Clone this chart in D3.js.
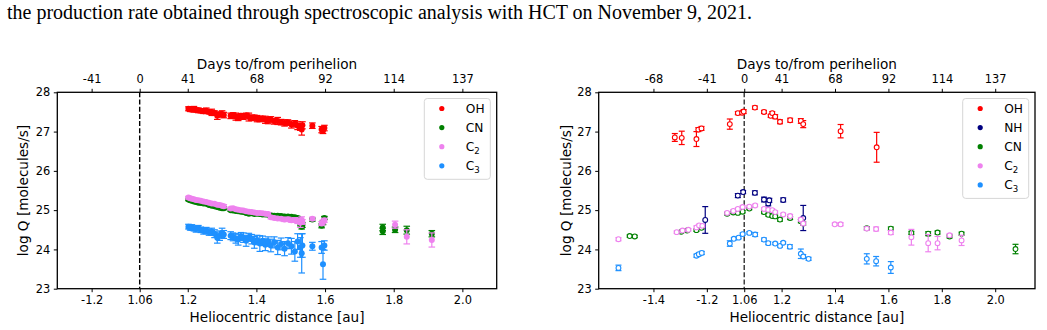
<!DOCTYPE html>
<html>
<meta charset="utf-8" />
<title>Production rates vs heliocentric distance</title>
<head>
    <script src="https://d3js.org/d3.v7.min.js"></script>
    <style>
        body { margin: 0; background: #fff; }
        svg text { font-family: "DejaVu Sans", sans-serif; fill: #000; }
    </style>
</head>
<body>
<div id="fig"></div>
<script type="text/javascript">
    // signed heliocentric distance: negative = pre-perihelion
    var perihelion = 1.06;

    var yTicks = [23, 24, 25, 26, 27, 28];
    var leftTicks = [-1.2, 1.06, 1.2, 1.4, 1.6, 1.8, 2.0];
    var leftTickLabels = ["-1.2", "1.06", "1.2", "1.4", "1.6", "1.8", "2.0"];
    var leftDays = ["-41", "0", "41", "68", "92", "114", "137"];
    var rightTicks = [-1.4, -1.2, 1.06, 1.2, 1.4, 1.6, 1.8, 2.0];
    var rightTickLabels = ["-1.4", "-1.2", "1.06", "1.2", "1.4", "1.6", "1.8", "2.0"];
    var rightDays = ["-68", "-41", "0", "41", "68", "92", "114", "137"];

    // left panel: one list of distances, one value per species (null = none)
    var leftDist = [1.202, 1.207, 1.212, 1.218, 1.224, 1.231, 1.238, 1.246, 1.254, 1.262, 1.270, 1.278, 1.286, 1.293, 1.300, 1.305,
        1.325, 1.332, 1.340, 1.347, 1.355, 1.362, 1.370, 1.378, 1.386, 1.394, 1.402, 1.410, 1.418, 1.426, 1.434, 1.442,
        1.452, 1.462, 1.472, 1.482, 1.492, 1.502, 1.512, 1.520, 1.528, 1.532, 1.534,
        1.563, 1.590, 1.594, 1.598, 1.768, 1.768, 1.804, 1.838, 1.911];
    var leftOH = [27.58, 27.57, 27.56, 27.57, 27.55, 27.54, 27.53, 27.52, 27.53, 27.50, 27.49, 27.47, 27.40, 27.44, 27.45, 27.42,
        27.40, 27.42, 27.38, 27.36, 27.40, 27.38, 27.41, 27.37, 27.35, 27.36, 27.33, 27.32, 27.33, 27.30, 27.28, 27.31,
        27.26, 27.27, 27.24, 27.22, 27.23, 27.18, 27.20, 27.15, 27.12, 27.05, 27.16,
        27.15, 27.05, 27.02, 27.09, null, null, null, null, null];
    var leftOHErr = [0.05, 0.06, 0.05, 0.07, 0.05, 0.06, 0.05, 0.06, 0.07, 0.05, 0.08, 0.06, 0.09, 0.06, 0.08, 0.07,
        0.07, 0.06, 0.09, 0.08, 0.06, 0.07, 0.06, 0.10, 0.07, 0.06, 0.08, 0.07, 0.06, 0.09, 0.08, 0.07,
        0.07, 0.09, 0.07, 0.08, 0.07, 0.09, 0.08, 0.10, 0.09, 0.14, 0.09,
        0.07, 0.08, 0.07, 0.07, 0, 0, 0, 0, 0];
    var leftCN = [25.27, 25.25, 25.24, 25.22, 25.21, 25.19, 25.18, 25.17, 25.16, 25.13, 25.11, 25.10, 25.08, 25.06, 25.05, 25.05,
        25.00, 24.99, 24.98, 24.97, 24.96, 24.95, 24.93, 24.91, 24.92, 24.90, 24.91, 24.90, 24.89, 24.89, 24.88, 24.87,
        24.86, 24.86, 24.85, 24.84, 24.84, 24.83, 24.82, 24.80, 24.66, 24.58, 24.62,
        24.76, 24.60, 24.68, 24.80, 24.56, 24.46, 24.50, 24.49, 24.40];
    var leftCNErr = [0.03, 0.03, 0.03, 0.03, 0.03, 0.03, 0.03, 0.03, 0.03, 0.03, 0.03, 0.03, 0.04, 0.03, 0.03, 0.04,
        0.03, 0.03, 0.03, 0.03, 0.03, 0.03, 0.03, 0.04, 0.03, 0.03, 0.03, 0.03, 0.03, 0.04, 0.03, 0.04,
        0.03, 0.04, 0.04, 0.04, 0.04, 0.04, 0.04, 0.04, 0.06, 0.06, 0.06,
        0.04, 0.05, 0.05, 0.04, 0.08, 0.08, 0.07, 0.10, 0.08];
    var leftC2 = [25.32, 25.30, 25.29, 25.28, 25.26, 25.25, 25.24, 25.22, 25.21, 25.19, 25.17, 25.16, 25.14, 25.13, 25.11, 25.10,
        25.04, 25.05, 25.02, 25.01, 25.00, 24.99, 24.97, 24.96, 24.95, 24.94, 24.93, 24.93, 24.92, 24.91, 24.90, 24.82,
        24.80, 24.79, 24.78, 24.76, 24.77, 24.74, 24.75, 24.72, 24.68, 24.75, 24.70,
        24.78, 24.66, 24.70, 24.74, null, null, 24.63, 24.32, 24.24];
    var leftC2Err = [0.03, 0.03, 0.03, 0.03, 0.03, 0.03, 0.03, 0.03, 0.03, 0.03, 0.03, 0.03, 0.03, 0.04, 0.03, 0.04,
        0.03, 0.03, 0.03, 0.03, 0.03, 0.03, 0.03, 0.03, 0.03, 0.03, 0.03, 0.03, 0.03, 0.03, 0.04, 0.04,
        0.04, 0.04, 0.04, 0.05, 0.05, 0.05, 0.06, 0.06, 0.12, 0.08, 0.06,
        0.04, 0.05, 0.05, 0.05, 0, 0, 0.09, 0.18, 0.18];
    var leftC3 = [24.58, 24.55, 24.56, 24.53, 24.52, 24.54, 24.50, 24.47, 24.48, 24.44, 24.45, 24.40, 24.30, 24.35, 24.42, 24.38,
        24.35, 24.32, 24.28, 24.25, 24.33, 24.30, 24.22, 24.31, 24.26, 24.18, 24.24, 24.15, 24.22, 24.12, 24.20, 24.10,
        24.18, 24.05, 24.14, 24.02, 24.16, 24.08, 23.95, 24.20, 24.05, 23.90, 24.10,
        24.08, 24.05, 23.62, 24.10, null, null, null, null, null];
    var leftC3Err = [0.06, 0.06, 0.07, 0.06, 0.08, 0.07, 0.07, 0.08, 0.08, 0.08, 0.09, 0.10, 0.14, 0.12, 0.12, 0.10,
        0.10, 0.10, 0.12, 0.14, 0.10, 0.12, 0.14, 0.10, 0.12, 0.15, 0.12, 0.20, 0.12, 0.15, 0.12, 0.16,
        0.14, 0.18, 0.15, 0.18, 0.14, 0.20, 0.25, 0.20, 0.25, 0.50, 0.30,
        0.10, 0.15, 0.38, 0.12, 0, 0, 0, 0, 0];

    // right panel: [signed distance, log Q, error]
    var rightOH = [[-1.320, 26.85, 0.10], [-1.294, 26.84, 0.17], [-1.239, 26.81, 0.19], [-1.232, 27.05, 0.05],
        [-1.220, 27.08, 0.05], [-1.114, 27.19, 0.13], [-1.084, 27.47, 0.04], [-1.068, 27.48, 0.04], [-1.062, 27.51, 0.05],
        [1.100, 27.61, 0.04], [1.134, 27.50, 0.04], [1.159, 27.40, 0.04], [1.165, 27.47, 0.04], [1.176, 27.38, 0.05],
        [1.194, 27.25, 0.05], [1.232, 27.29, 0.05], [1.272, 27.27, 0.06], [1.281, 27.19, 0.09], [1.421, 27.01, 0.17],
        [1.556, 26.60, 0.38]];
    var rightNH = [[-1.206, 24.75, 0.34], [-1.084, 25.37, 0.05], [-1.064, 25.46, 0.04], [1.100, 25.44, 0.05],
        [1.134, 25.27, 0.06], [1.150, 25.17, 0.06], [1.154, 25.25, 0.05], [1.206, 25.26, 0.05], [1.281, 24.80, 0.32]];
    var rightCN = [[-1.489, 24.34, 0.03], [-1.470, 24.33, 0.03], [-1.296, 24.45, 0.03], [-1.274, 24.48, 0.03],
        [-1.239, 24.49, 0.03], [-1.220, 24.55, 0.03], [-1.124, 24.91, 0.03], [-1.101, 24.94, 0.03], [-1.084, 24.93, 0.03],
        [-1.066, 24.96, 0.03], [1.079, 25.04, 0.03], [1.134, 24.95, 0.04], [1.150, 24.88, 0.03], [1.165, 24.85, 0.03],
        [1.176, 24.84, 0.03], [1.194, 24.76, 0.04], [1.232, 24.80, 0.04], [1.272, 24.72, 0.04], [1.281, 24.66, 0.04],
        [1.519, 24.54, 0.04], [1.609, 24.53, 0.04], [1.686, 24.42, 0.04], [1.749, 24.40, 0.05], [1.784, 24.43, 0.04],
        [1.829, 24.33, 0.04], [1.874, 24.40, 0.04], [2.076, 24.01, 0.12]];
    var rightC2 = [[-1.531, 24.26, 0.04], [-1.313, 24.44, 0.03], [-1.291, 24.48, 0.03], [-1.269, 24.50, 0.03],
        [-1.239, 24.56, 0.04], [-1.229, 24.61, 0.03], [-1.217, 24.60, 0.03], [-1.124, 24.93, 0.03], [-1.101, 24.98, 0.03],
        [-1.084, 25.03, 0.03], [-1.066, 25.08, 0.03], [1.079, 25.09, 0.03], [1.101, 25.12, 0.03], [1.134, 25.03, 0.03],
        [1.150, 25.01, 0.03], [1.165, 25.00, 0.03], [1.176, 24.95, 0.03], [1.206, 24.89, 0.03], [1.232, 24.85, 0.04],
        [1.272, 24.76, 0.04], [1.281, 24.66, 0.04], [1.399, 24.64, 0.03], [1.421, 24.64, 0.04], [1.519, 24.53, 0.04],
        [1.554, 24.52, 0.05], [1.609, 24.43, 0.05], [1.686, 24.31, 0.20], [1.749, 24.16, 0.22], [1.784, 24.16, 0.17],
        [1.829, 24.36, 0.04], [1.874, 24.23, 0.13]];
    var rightC3 = [[-1.531, 23.53, 0.07], [-1.239, 23.84, 0.04], [-1.230, 23.88, 0.04], [-1.219, 23.91, 0.04],
        [-1.114, 24.15, 0.07], [-1.099, 24.27, 0.03], [-1.081, 24.30, 0.03], [-1.066, 24.39, 0.03], [1.079, 24.42, 0.03],
        [1.101, 24.38, 0.05], [1.134, 24.25, 0.04], [1.150, 24.16, 0.04], [1.176, 24.15, 0.03], [1.194, 24.09, 0.03],
        [1.206, 24.17, 0.03], [1.231, 24.07, 0.05], [1.272, 23.89, 0.12], [1.281, 23.82, 0.05], [1.301, 23.76, 0.04],
        [1.519, 23.76, 0.13], [1.554, 23.70, 0.12], [1.609, 23.54, 0.15]];

    var colors = { OH: "#ff0000", NH: "#000080", CN: "#008000", C2: "#ee82ee", C3: "#1e90ff" };

    // pre-perihelion distances are mirrored about perihelion
    function unfold(r) { return r < 0 ? 2 * perihelion + r : r; }

    function zipLeft(vals, errs) {
        var out = [];
        for (let i = 0; i < leftDist.length; ++i)
            if (vals[i] !== null) out.push([leftDist[i], vals[i], errs[i]]);
        return out;
    }

    var svg = d3.select("#fig").append("svg")
        .attr("width", 1047).attr("height", 330);

    svg.append("text")
        .attr("x", 7).attr("y", 18.5)
        .style("font-family", "'Liberation Serif', 'Times New Roman', serif")
        .style("font-size", "20px")
        .text("the production rate obtained through spectroscopic analysis with HCT on November 9, 2021.");

    const plotTop = 92.3, plotBottom = 288.7;

    function drawPanel(p) {
        var x = d3.scaleLinear().domain(p.domain.map(unfold)).range([p.left, p.right]);
        var y = d3.scaleLinear().domain([23, 28]).range([plotBottom, plotTop]);
        var g = svg.append("g");

        var xb = g.append("g").attr("transform", "translate(0," + plotBottom + ")")
            .call(d3.axisBottom(x).tickValues(p.ticks.map(unfold))
                .tickFormat((d, i) => p.labels[i]).tickSize(3.5).tickPadding(3.5));
        var xt = g.append("g").attr("transform", "translate(0," + plotTop + ")")
            .call(d3.axisTop(x).tickValues(p.ticks.map(unfold))
                .tickFormat((d, i) => p.days[i]).tickSize(3.5).tickPadding(5.5));
        var yl = g.append("g").attr("transform", "translate(" + p.left + ",0)")
            .call(d3.axisLeft(y).tickValues(yTicks).tickFormat(d3.format("d")).tickSize(3.5).tickPadding(3.5));
        [xb, xt, yl].forEach(function(a) {
            a.select(".domain").remove();
            a.selectAll(".tick line").attr("stroke", "#000").attr("stroke-width", 1);
            a.selectAll(".tick text").style("font-size", "11.4px").style("font-family", "'DejaVu Sans'");
        });

        g.append("line")
            .attr("x1", x(unfold(perihelion))).attr("x2", x(unfold(perihelion)))
            .attr("y1", plotTop).attr("y2", plotBottom)
            .attr("stroke", p.dashColor).attr("stroke-width", 1.4)
            .attr("stroke-dasharray", "5,2.2");

        p.series.forEach(function(s) {
            var c = colors[s.name];
            var sg = g.append("g");
            var cap = p.open ? 3 : 3.3;
            var bars = sg.selectAll("g.bar").data(s.pts.filter(d => d[2] > 0)).enter().append("g");
            bars.append("line")
                .attr("x1", d => x(unfold(d[0]))).attr("x2", d => x(unfold(d[0])))
                .attr("y1", d => y(d[1] - d[2])).attr("y2", d => y(d[1] + d[2]));
            bars.append("line")
                .attr("x1", d => x(unfold(d[0])) - cap).attr("x2", d => x(unfold(d[0])) + cap)
                .attr("y1", d => y(d[1] - d[2])).attr("y2", d => y(d[1] - d[2]));
            bars.append("line")
                .attr("x1", d => x(unfold(d[0])) - cap).attr("x2", d => x(unfold(d[0])) + cap)
                .attr("y1", d => y(d[1] + d[2])).attr("y2", d => y(d[1] + d[2]));
            bars.selectAll("line").attr("stroke", c).attr("stroke-width", 1.2);
            sg.selectAll("circle").data(s.pts).enter().append("circle")
                .attr("cx", d => x(unfold(d[0]))).attr("cy", d => y(d[1]))
                .attr("r", p.open ? 2.4 : 3)
                .attr("fill", p.open ? "#fff" : c)
                .attr("stroke", c).attr("stroke-width", p.open ? 1.1 : 0);
        });

        g.append("rect")
            .attr("x", p.left).attr("y", plotTop)
            .attr("width", p.right - p.left).attr("height", plotBottom - plotTop)
            .attr("fill", "none").attr("stroke", "#000").attr("stroke-width", 1.3);

        var cx = (p.left + p.right) / 2;
        g.append("text").attr("x", cx).attr("y", 321.5).attr("text-anchor", "middle")
            .style("font-size", "13.6px").text("Heliocentric distance [au]");
        g.append("text").attr("x", cx).attr("y", 69).attr("text-anchor", "middle")
            .style("font-size", "13.6px").text("Days to/from perihelion");
        g.append("text").attr("transform", "translate(" + p.ylabelX + "," + (plotTop + plotBottom) / 2 + ") rotate(-90)")
            .attr("text-anchor", "middle").style("font-size", "13.6px").text("log Q [molecules/s]");

        // legend
        var n = p.series.length;
        var lg = g.append("g");
        lg.append("rect")
            .attr("x", p.legendX).attr("y", 98.5)
            .attr("width", 66).attr("height", 19.1 * n + 4.4)
            .attr("rx", 3).attr("fill", "#fff").attr("fill-opacity", 0.8)
            .attr("stroke", "#d6d6d6").attr("stroke-width", 1);
        p.series.forEach(function(s, i) {
            var ly = 108.5 + 19.1 * i;
            lg.append("circle").attr("cx", p.legendX + 17.5).attr("cy", ly)
                .attr("r", 2.6).attr("fill", colors[s.name]);
            var t = lg.append("text").attr("x", p.legendX + 41.5).attr("y", ly).attr("dy", "0.36em")
                .style("font-size", "12.2px");
            var m = s.name.match(/^([A-Z])(\d)$/);
            if (m) {
                t.append("tspan").text(m[1]);
                t.append("tspan").attr("dy", 3).style("font-size", "8.6px").text(m[2]);
            } else {
                t.text(s.name);
            }
        });
    }

    drawPanel({
        left: 57.3, right: 496.7, domain: [-1.30, 2.10],
        ticks: leftTicks, labels: leftTickLabels, days: leftDays,
        ylabelX: 27.8, legendX: 424.3, open: false, dashColor: "#000",
        series: [
            { name: "OH", pts: zipLeft(leftOH, leftOHErr) },
            { name: "CN", pts: zipLeft(leftCN, leftCNErr) },
            { name: "C2", pts: zipLeft(leftC2, leftC2Err) },
            { name: "C3", pts: zipLeft(leftC3, leftC3Err) }
        ]
    });

    drawPanel({
        left: 598.7, right: 1035, domain: [-1.605, 2.149],
        ticks: rightTicks, labels: rightTickLabels, days: rightDays,
        ylabelX: 570.5, legendX: 962.7, open: true, dashColor: "#333",
        series: [
            { name: "OH", pts: rightOH },
            { name: "NH", pts: rightNH },
            { name: "CN", pts: rightCN },
            { name: "C2", pts: rightC2 },
            { name: "C3", pts: rightC3 }
        ]
    });
</script>
</body>
</html>
